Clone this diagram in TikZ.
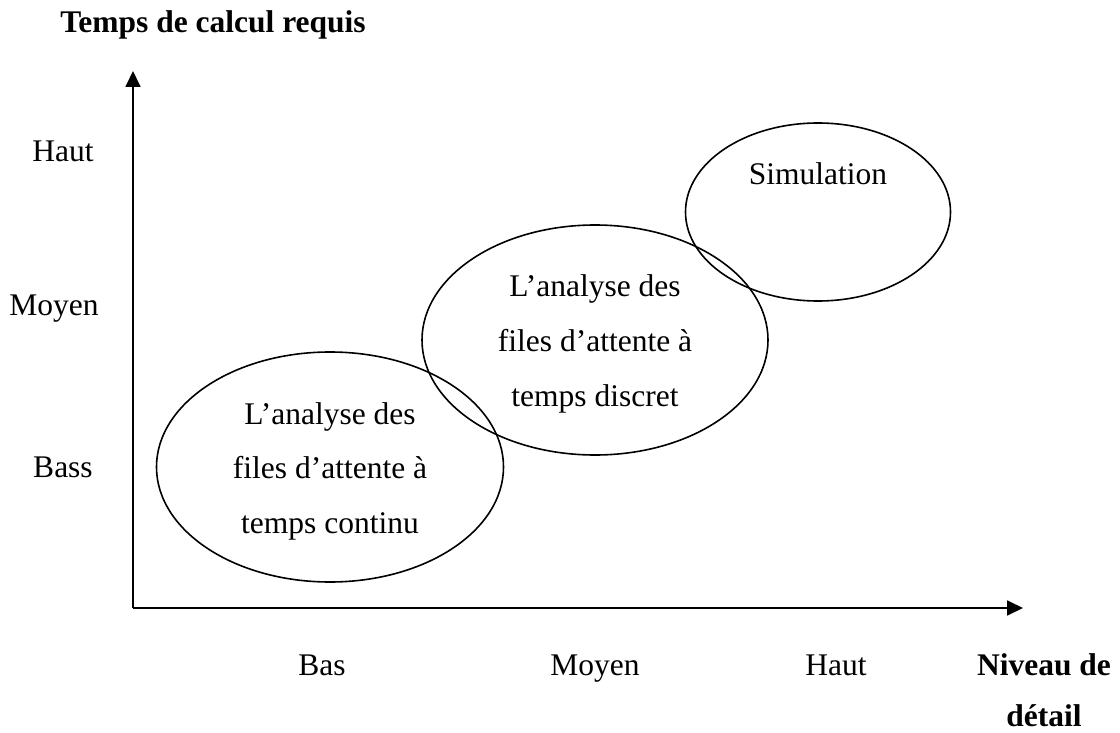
\documentclass[tikz,border=0pt]{standalone}
\usepackage{fontspec}
\setmainfont{Liberation Serif}
\usetikzlibrary{arrows.meta,shapes.geometric}
\begin{document}
\begin{tikzpicture}[x=1pt,y=-1pt,
  lbl/.style={font=\fontsize{31.5}{38}\selectfont, inner sep=0pt, anchor=base},
  blbl/.style={lbl, font=\fontsize{31.5}{38}\selectfont\bfseries},
  blob/.style={draw, line width=1.6pt, ellipse, inner sep=0pt},
  axis/.style={line width=1.8pt, -{Triangle[length=16pt,width=15pt]}}]
\useasboundingbox (0,0) rectangle (1120,733);
\coordinate (o) at (133,608);
\coordinate (ytip) at (133,71);
\coordinate (xtip) at (1023,608);
\draw[axis] (o) -- (ytip);
\draw[axis] (o) -- (xtip);
\node[blob, minimum width=347, minimum height=230] (e1) at (330,467) {};
\node[blob, minimum width=346, minimum height=230] (e2) at (595,340) {};
\node[blob, minimum width=265, minimum height=178] (e3) at (818,212) {};
% left ellipse text
\node[lbl] (t1a) at (330,424) {L’analyse des};
\node[lbl] (t1b) at (330,478.5) {files d’attente à};
\node[lbl] (t1c) at (330,533) {temps continu};
% middle ellipse text
\node[lbl] (t2a) at (595,296) {L’analyse des};
\node[lbl] (t2b) at (595,351) {files d’attente à};
\node[lbl] (t2c) at (595,406) {temps discret};
% right ellipse text
\node[lbl] (t3) at (818,185) {Simulation};
% axis labels
\node[blbl] (ytitle) at (213,33) {Temps de calcul requis};
\node[lbl] (yh) at (63,162) {Haut};
\node[lbl] (ym) at (54,315) {Moyen};
\node[lbl] (yb) at (63,477) {Bass};
\node[lbl] (xb) at (322,675) {Bas};
\node[lbl] (xm) at (595,675) {Moyen};
\node[lbl] (xh) at (836,675) {Haut};
\node[blbl] (xtitle1) at (1044,675) {Niveau de};
\node[blbl] (xtitle2) at (1044,726) {détail};
\end{tikzpicture}
\end{document}
